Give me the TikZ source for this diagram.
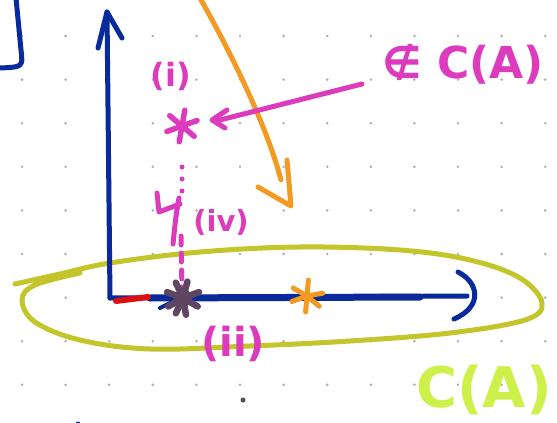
\documentclass[tikz,border=0pt]{standalone}
\usepackage{fontspec}
\setmainfont{DejaVu Sans}
\definecolor{penblue}{RGB}{10,42,155}
\definecolor{penmag}{RGB}{220,59,190}
\definecolor{penorange}{RGB}{243,154,34}
\definecolor{penolive}{RGB}{195,197,42}
\definecolor{penmauve}{RGB}{94,69,96}
\definecolor{penred}{RGB}{221,16,16}
\definecolor{penlime}{RGB}{205,240,75}
\definecolor{penyellow}{RGB}{255,250,40}
\definecolor{griddot}{RGB}{175,175,175}
\tikzset{
  pen/.style={line width=5pt, line cap=round, line join=round},
  lbl/.style={inner sep=0pt, text=penmag},
}
\begin{document}
\begin{tikzpicture}[x=1pt,y=-1pt]
\useasboundingbox (0,0) rectangle (557,423);
\clip (0,0) rectangle (557,423);
\fill[white] (0,0) rectangle (557,423);
% dot grid
\foreach \i in {0,...,12}{
  \foreach \j in {0,...,8}{
    \fill[griddot] ({22+43.6*\i},{36+43.6*\j}) circle (1.4pt);
  }
}
% top-left bracket
\draw[pen, penblue] (16,-2) -- (21,50) .. controls (23,67) .. (0,68);
% olive loop
\draw[pen, penolive] plot[smooth, tension=0.6] coordinates {(15,284) (60,274) (110,263) (200,252) (300,247) (400,250) (470,260) (520,278) (542,303) (525,320) (450,333) (350,341) (250,346) (150,349) (80,340) (35,322) (22,300) (35,285) (80,273)};
% axes
\coordinate (o) at (110,298);
\coordinate (ytip) at (107,12);
\coordinate (xend) at (467,296);
\draw[pen, penblue] (o) -- (ytip);
\draw[pen, penblue] (98,48) -- (ytip) -- (122,38);
\draw[pen, penblue] (o) -- (xend);
\draw[pen, penblue, line width=7pt] (150,298) -- (420,297);
\draw[pen, penblue] (458,272) .. controls (478,282) and (484,306) .. (454,319);
\draw[pen, penblue, line width=4pt] (160,308) -- (170,303);
% red segment
\draw[pen, penred, line width=6pt] (116,301) -- (148,297);
% orange curve arrow
\coordinate (otip) at (291,206);
\draw[pen, penorange] (200,-2) .. controls (235,60) and (268,130) .. (281,180);
\draw[pen, penorange] (258,187) -- (otip) -- (287,160);
% magenta dotted line
\draw[pen, penmag, dash pattern=on 0pt off 12pt] (182,167) -- (182,195);
\draw[pen, penmag, dash pattern=on 9pt off 8pt] (181,236) -- (182,292);
% magenta star
\node (mstar) at (182,126) {};
\foreach \a in {90,150,210,270,330,30}{
  \draw[pen, penmag, line width=5.5pt] (182,126) -- ++({\a+10}:16);
}
% magenta arrow
\coordinate (mtip) at (212,120);
\draw[pen, penmag] (362,84) -- (216,121);
\draw[pen, penmag] (227,110) -- (mtip) -- (225,128);
% scribble before (iv)
\draw[pen, penmag] (157,193) -- (159,212) -- (180,204);
\draw[pen, penmag] (179,198) .. controls (176,215) .. (173,244);
% orange star
\foreach \a in {95,40,-10,-85,-150,160}{
  \draw[pen, penorange] (307,296) -- ++(\a:16);
}
% mauve star
\foreach \a in {80,30,-20,-75,-115,-160,150,115}{
  \draw[pen, penmauve, line width=6.5pt] (183,298) -- ++(\a:17);
}
\fill[penmauve] (183,298) circle (9pt);
% small dots
\fill[penmauve] (243,400) circle (2.5pt);
\fill[penblue] (78,424) circle (2.5pt);
% labels
\node[lbl, font=\bfseries\fontsize{32}{34}\selectfont] (li) at (171,76) {(i)};
\node[lbl, font=\bfseries\fontsize{29}{32}\selectfont] (liv) at (221,222) {(iv)};
\node[lbl, font=\bfseries\fontsize{40}{44}\selectfont] (lii) at (233,344) {(ii)};
\node[lbl, font=\bfseries\fontsize{44}{50}\selectfont] (lnot) at (463,64) {∉ C(A)};
\node[inner sep=0pt, text=penlime, font=\bfseries\fontsize{56}{60}\selectfont] (lca) at (484,390) {C(A)};
\end{tikzpicture}
\end{document}
